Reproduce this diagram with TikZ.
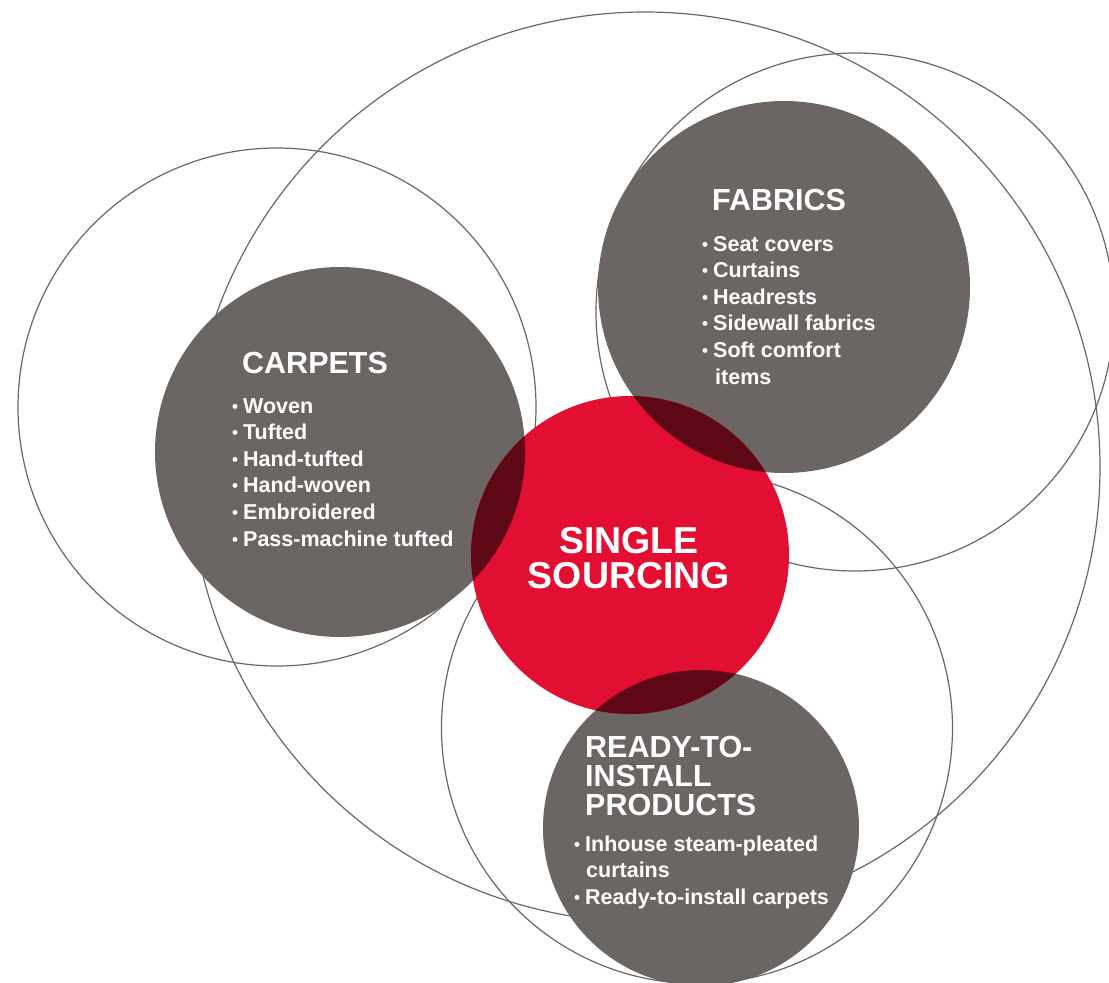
\documentclass[tikz,border=0pt]{standalone}
\usepackage{fontspec}
\setmainfont{Liberation Sans}
\definecolor{dgray}{HTML}{6B6664}
\definecolor{sred}{HTML}{E30F32}
\definecolor{dred}{HTML}{5E0715}
\newcommand{\smallbul}{\hspace*{1pt}\raisebox{1pt}{\fontsize{17}{17}\selectfont\textbullet}}
\newcommand{\itemline}[2][12pt]{\hbox{\makebox[#1][l]{\smallbul}#2}}
\tikzset{
  ring/.style={draw=dgray, line width=1.2pt},
  blob/.style={fill=dgray},
  title/.style={anchor=base west, inner sep=0pt, text=white, font=\bfseries\fontsize{30.5}{29}\selectfont},
  lst/.style={anchor=base west, inner sep=0pt, text=white, font=\bfseries\fontsize{21.5}{26.6}\selectfont},
}
\begin{document}
\begin{tikzpicture}[x=1pt,y=-1pt]
\useasboundingbox (0,0) rectangle (1109,983);
\begin{scope}
\clip (0,0) rectangle (1109,983);
% outline circles
\draw[ring] (645,467) circle (455);
\draw[ring] (277,407) circle (259);
\draw[ring] (855,312) circle (259);
\draw[ring] (697,728) circle (255.5);
% filled circles
\fill[blob] (340,452) circle (185);
\fill[blob] (784,287) circle (186);
\fill[blob] (701,828) circle (158);
\fill[sred] (630,555) circle (159);
\begin{scope}
\clip (630,555) circle (159);
\fill[dred] (340,452) circle (185);
\fill[dred] (784,287) circle (186);
\fill[dred] (701,828) circle (158);
\end{scope}
\end{scope}
% texts
\node[title] (ct) at (242,373) {CARPETS};
\node[lst] (cl) at (231,413) {\vtop{\itemline{Woven}\itemline{Tufted}\itemline{Hand-tufted}\itemline{Hand-woven}\itemline{Embroidered}\itemline{Pass-machine tufted}}};
\node[title] (ft) at (712,210) {FABRICS};
\node[lst] (fl) at (701,251) {\vtop{\itemline{Seat covers}\itemline{Curtains}\itemline{Headrests}\itemline{Sidewall fabrics}\itemline{Soft comfort}\hbox{\hspace*{14pt}items}}};
\node[title] (rt) at (585,757) {\vtop{\hbox{READY-TO-}\hbox{INSTALL}\hbox{PRODUCTS}}};
\node[lst] (rl) at (573,851) {\vtop{\itemline{Inhouse steam-pleated}\hbox{\hspace*{13pt}curtains}\itemline{Ready-to-install carpets}}};
\node[anchor=base, inner sep=0pt, text=white, font=\bfseries\fontsize{37.5}{35}\selectfont] (ss) at (629,553) {\vtop{\hbox to 0pt{\hss SINGLE\hss}\hbox to 0pt{\hss SOURCING\hss}}};
\end{tikzpicture}
\end{document}
